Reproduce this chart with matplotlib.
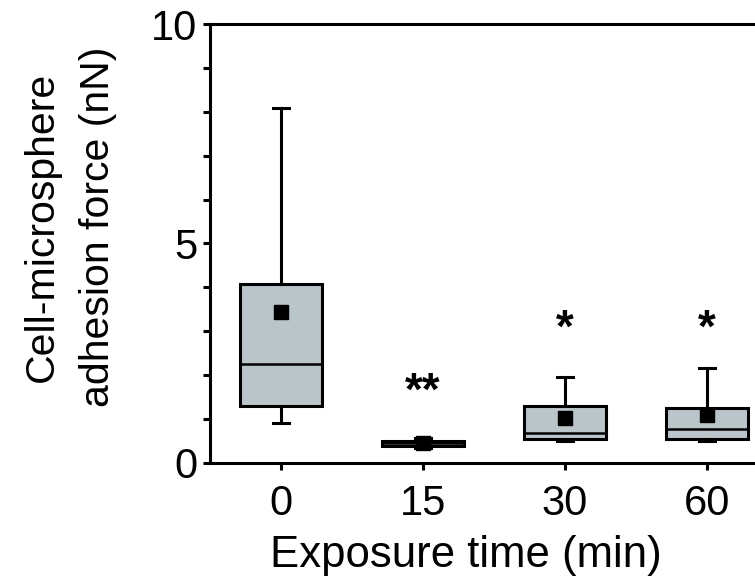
import matplotlib
matplotlib.use("Agg")
import matplotlib.pyplot as plt

plt.rcParams['font.family'] = ['Liberation Sans', 'DejaVu Sans']

categories = ["0", "15", "30", "60"]
whisker_low = [0.91, 0.35, 0.49, 0.50]
q1 = [1.30, 0.39, 0.55, 0.55]
median = [2.25, 0.45, 0.69, 0.77]
q3 = [4.08, 0.51, 1.30, 1.25]
whisker_high = [8.09, 0.56, 1.96, 2.16]
means = [3.44, 0.45, 1.02, 1.09]
sig_labels = ["", "**", "*", "*"]
sig_y = [None, 1.60, 3.04, 3.04]

W, H = 755, 584
fig = plt.figure(figsize=(W / 100, H / 100), dpi=100)
ax = fig.add_axes([210 / W, 1 - 463 / H, 568 / W, (463 - 24) / H])

stats = []
for i in range(len(categories)):
    stats.append(dict(med=median[i], q1=q1[i], q3=q3[i],
                      whislo=whisker_low[i], whishi=whisker_high[i],
                      mean=means[i], fliers=[]))
pos = list(range(len(categories)))
lw = 2.2
ax.bxp(stats, positions=pos, widths=0.58, patch_artist=True, showmeans=True,
       boxprops=dict(facecolor="#b9c5c8", edgecolor="black", linewidth=lw),
       medianprops=dict(color="black", linewidth=1.8),
       whiskerprops=dict(color="black", linewidth=lw),
       capprops=dict(color="black", linewidth=lw),
       capwidths=0.11,
       meanprops=dict(marker="s", markerfacecolor="black", markeredgecolor="black",
                      markersize=10.5))

for i, (lab, yy) in enumerate(zip(sig_labels, sig_y)):
    if lab:
        ax.text(pos[i], yy, lab, ha="center", va="center", fontsize=33,
                fontweight="bold")

ax.set_xlim(-0.5, 3.5)
ax.set_ylim(0, 10)
ax.set_yticks([0, 5, 10])
ax.set_yticks([1, 2, 3, 4, 6, 7, 8, 9], minor=True)
ax.set_xticks(pos)
ax.set_xticklabels(categories)
ax.tick_params(axis="both", which="both", direction="out", width=lw, length=5,
               labelsize=30, color="black")
ax.tick_params(axis="y", pad=4)
ax.tick_params(axis="x", pad=10)
for s in ["left", "bottom", "top"]:
    ax.spines[s].set_linewidth(lw)
ax.spines["right"].set_visible(False)

fig.text(70 / W, 1 - 227 / H, "Cell-microsphere\nadhesion force (nN)",
         rotation=90, ha="center", va="center", fontsize=29.5,
         multialignment="center", linespacing=1.6)
fig.text(466 / W, 1 - 556 / H, "Exposure time (min)", ha="center",
         va="center", fontsize=31.5)

fig.savefig("out.png", dpi=100)
